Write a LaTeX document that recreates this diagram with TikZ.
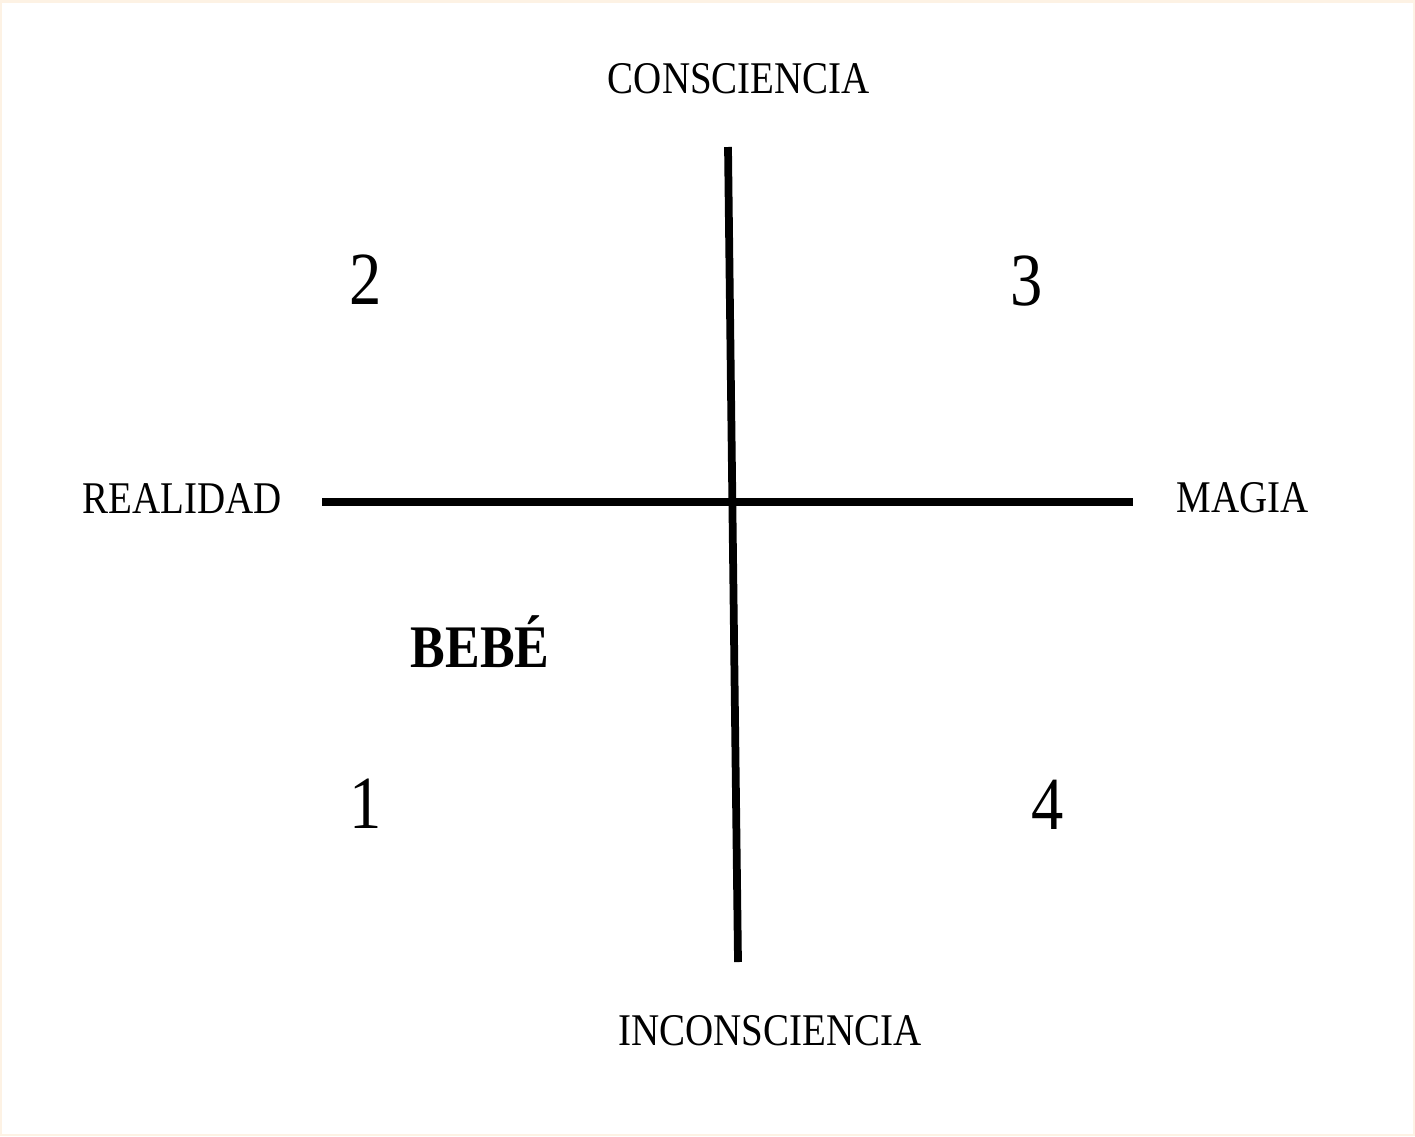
\documentclass[tikz,border=0pt]{standalone}
\usepackage{fontspec}
\setmainfont{Liberation Serif}[FakeStretch=0.86]
\usepackage{tikz}
\usetikzlibrary{positioning}

\definecolor{paperedge}{RGB}{253,242,228}

\begin{document}
\begin{tikzpicture}[
    x=0.02cm, y=-0.02cm,
    axis/.style={line width=0.155cm, line cap=butt},
    axislabel/.style={anchor=base, inner sep=0pt, font=\fontsize{25.8}{30}\selectfont},
    quadnum/.style={anchor=base, inner sep=0pt, font=\fontsize{42.7}{50}\selectfont},
    babylabel/.style={anchor=base, inner sep=0pt, font=\fontsize{34.4}{40}\selectfont\bfseries}
]

% ---------------- Frame ----------------
\useasboundingbox (0,0) rectangle (1415,1136);
\draw[paperedge, line width=0.05cm] (1.25,1.25) rectangle (1413.75,1134.75);

% ---------------- Axes ----------------
\coordinate (ctop) at (728,147);
\coordinate (cbot) at (738,962);
\coordinate (rleft) at (322,502);
\coordinate (mright) at (1133,502);

\draw[axis] (ctop) -- (cbot);
\draw[axis] (rleft) -- (mright);

% ---------------- Labels ----------------
\node[axislabel] (cons) at (739,93) {CONSCIENCIA};
\node[axislabel] (incons) at (770,1045) {INCONSCIENCIA};
\node[axislabel] (real) at (182,513) {REALIDAD};
\node[axislabel] (mag) at (1243,512) {MAGIA};

% ---------------- Quadrants ----------------
\node[quadnum] (q2) at (366,304) {2};
\node[quadnum] (q3) at (1027,305) {3};
\node[quadnum] (q1) at (366,828) {1};
\node[quadnum] (q4) at (1048,829) {4};

\node[babylabel] (bebe) at (480,667) {BEBÉ};

\end{tikzpicture}
\end{document}
